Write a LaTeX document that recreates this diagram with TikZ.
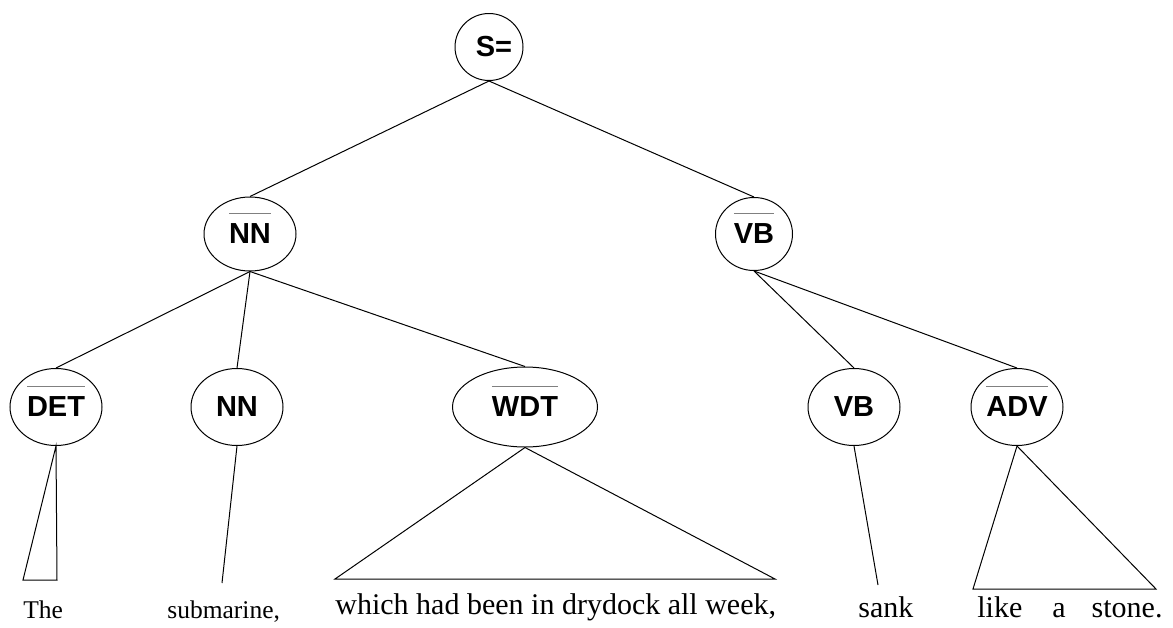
\documentclass[tikz,border=0pt]{standalone}
\usepackage{fontspec}
\setmainfont{Liberation Serif}
\newfontfamily\catfont{Liberation Sans}
\usetikzlibrary{shapes.geometric}
% overlined category label
\newcommand\ovl[1]{\setbox0\hbox{#1}\rlap{\color{gray}\raisebox{15pt}[0pt][0pt]{\rule{\wd0}{0.7pt}}}\box0}
\begin{document}
\begin{tikzpicture}[
    x=0.5pt, y=-0.5pt,
    cat/.style={ellipse, draw, line width=0.5pt, inner sep=0pt, minimum width=46pt, minimum height=38.5pt, font=\catfont\bfseries\fontsize{14.5}{16}\selectfont},
    word/.style={anchor=base west, inner sep=0pt, font=\fontsize{15}{17}\selectfont},
    small/.style={word, font=\fontsize{12.75}{15}\selectfont},
    edge/.style={line width=0.5pt}
]
    \useasboundingbox (0,0) rectangle (1173,627);
    % Category nodes
    \node[cat, minimum width=34pt, minimum height=33.5pt] (s) at (489,47) {\hspace*{5pt}S=};
    \node[cat, minimum height=37pt] (nn) at (250,234) {\ovl{NN}};
    \node[cat, minimum width=38.5pt, minimum height=36.5pt] (vb) at (754,234) {\ovl{VB}};
    \node[cat] (det) at (56,407) {\ovl{DET}};
    \node[cat] (nnw) at (237,407) {NN};
    \node[cat, minimum width=72.5pt, minimum height=40pt] (wdt) at (525,407) {\ovl{WDT}};
    \node[cat] (vbw) at (854,407) {VB};
    \node[cat] (adv) at (1017,407) {\ovl{ADV}};
    % Branches
    \draw[edge] (s.south) -- (nn.north);
    \draw[edge] (s.south) -- (vb.north);
    \draw[edge] (nn.south) -- (det.north);
    \draw[edge] (nn.south) -- (nnw.north);
    \draw[edge] (nn.south) -- (wdt.north);
    \draw[edge] (vb.south) -- (vbw.north);
    \draw[edge] (vb.south) -- (adv.north);
    % Leaves
    \coordinate (detl) at (23,580);
    \coordinate (detr) at (57,580);
    \coordinate (nnend) at (222,583);
    \coordinate (wdtl) at (335,579);
    \coordinate (wdtr) at (775,579);
    \coordinate (vbend) at (878,585);
    \coordinate (advl) at (973,589);
    \coordinate (advr) at (1156,589);
    \draw[edge] (det.south) -- (detl) -- (detr) -- cycle;
    \draw[edge] (nnw.south) -- (nnend);
    \draw[edge] (wdt.south) -- (wdtl) -- (wdtr) -- cycle;
    \draw[edge] (vbw.south) -- (vbend);
    \draw[edge] (adv.south) -- (advl) -- (advr) -- cycle;
    % Words
    \node[small] (the) at (23,618) {The};
    \node[small] (subm) at (167,618) {submarine,};
    \node[word] (which) at (335,614) {which had been in drydock all week,};
    \node[word] (sank) at (858,617) {sank};
    \node[word] (stone) at (977,617) {like\hspace{15pt}a\hspace{13pt}stone.};
\end{tikzpicture}
\end{document}
